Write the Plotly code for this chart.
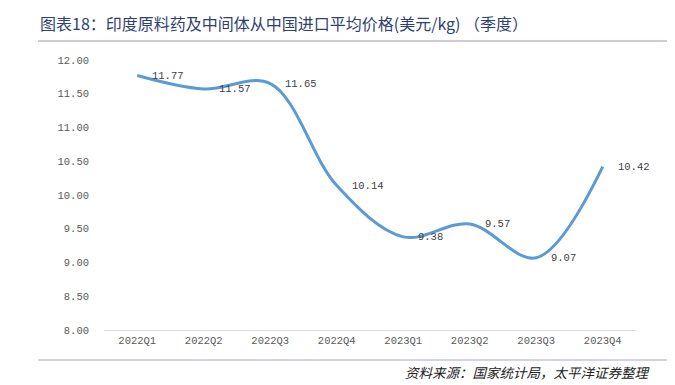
import plotly.graph_objects as go

categories = ["2022Q1", "2022Q2", "2022Q3", "2022Q4", "2023Q1", "2023Q2", "2023Q3", "2023Q4"]
prices = [11.77, 11.57, 11.65, 10.14, 9.38, 9.57, 9.07, 10.42]
price_labels = ["11.77", "11.57", "11.65", "10.14", "9.38", "9.57", "9.07", "10.42"]
y_ticks = [8.0, 8.5, 9.0, 9.5, 10.0, 10.5, 11.0, 11.5, 12.0]
y_tick_labels = ["8.00", "8.50", "9.00", "9.50", "10.00", "10.50", "11.00", "11.50", "12.00"]

title_text = "图表18：印度原料药及中间体从中国进口平均价格(美元/kg) （季度）"
source_text = "资料来源：国家统计局，太平洋证券整理"

# page body has an 8px default margin; compensate
OFF = 8
W, H = 675 - OFF, 385 - OFF
L, R, T, B = 104 - OFF, 39, 60 - OFF, 55
PW, PH = W - L - R, H - T - B

mono = "Liberation Mono, DejaVu Sans Mono, monospace"

fig = go.Figure()
fig.add_trace(go.Scatter(
    x=categories, y=prices,
    mode="lines",
    line=dict(color="#5b9bd5", width=3, shape="spline", smoothing=1.0),
    hoverinfo="skip",
))

for c, v, t in zip(categories, prices, price_labels):
    fig.add_annotation(
        x=c, y=v, text=t, showarrow=False,
        xanchor="left", yanchor="middle", xshift=13,
        font=dict(family=mono, size=10.5, color="#404040"),
    )

fig.update_layout(
    width=W, height=H,
    margin=dict(l=L, r=R, t=T, b=B),
    paper_bgcolor="white", plot_bgcolor="white",
    showlegend=False,
    font=dict(family=mono, color="#595959"),
    xaxis=dict(
        type="category", showgrid=False, zeroline=False,
        showline=True, linecolor="#d9d9d9", linewidth=1,
        ticks="", tickfont=dict(family=mono, size=10.5, color="#595959"),
        range=[-0.5, len(categories) - 0.5],
    ),
    yaxis=dict(
        range=[8.0, 12.0], tickvals=y_ticks, ticktext=y_tick_labels,
        showgrid=False, zeroline=False, showline=False, ticks="",
        tickfont=dict(family=mono, size=10.5, color="#595959"), ticklabelstandoff=14,
    ),
)

def fx(px):
    return (px - OFF - L) / PW

def fy(py):
    return (H - B - (py - OFF)) / PH

fig.add_shape(type="line", xref="paper", yref="paper",
              x0=fx(38), x1=fx(668), y0=fy(5), y1=fy(5),
              line=dict(color="#5a5a8c", width=3))
fig.add_shape(type="line", xref="paper", yref="paper",
              x0=fx(38), x1=fx(668), y0=fy(41), y1=fy(41),
              line=dict(color="#9a98b8", width=1))
fig.add_shape(type="line", xref="paper", yref="paper",
              x0=fx(38), x1=fx(668), y0=fy(360), y1=fy(360),
              line=dict(color="#a9a7cc", width=1))

fig.add_annotation(
    xref="paper", yref="paper", x=fx(38), y=fy(23),
    xanchor="left", yanchor="middle", showarrow=False,
    text=title_text,
    font=dict(family="Noto Sans CJK SC", size=16, color="#2f3f6f"),
)
fig.add_annotation(
    xref="paper", yref="paper", x=fx(652), y=fy(372),
    xanchor="right", yanchor="middle", showarrow=False,
    text="<i>" + source_text + "</i>",
    font=dict(family="Noto Sans CJK SC", size=13.5, color="#222222"),
)

fig.write_html("out.html")
